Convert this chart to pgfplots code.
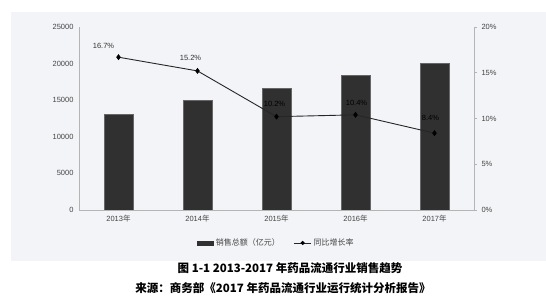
\documentclass[border=0pt]{standalone}
\usepackage{pgfplots}
\pgfplotsset{compat=1.18}
\usepackage{fontspec}
\setmainfont{Liberation Sans}
\newfontfamily\cjk{Noto Sans CJK SC}
\definecolor{bgcol}{HTML}{F3F4F7}
\definecolor{barcol}{HTML}{303030}
\definecolor{axcol}{HTML}{B4B4B4}
\definecolor{txtcol}{HTML}{454545}
\begin{document}
\begin{tikzpicture}[x=1pt,y=1pt]
\useasboundingbox (0,0) rectangle (546,297);
\fill[bgcol] (11,36) rectangle (546,285);
\begin{axis}[
  at={(79pt,87pt)}, anchor=south west, scale only axis,
  width=395pt, height=183pt,
  xmin=-0.5, xmax=4.5, ymin=0, ymax=25000,
  scaled y ticks=false,
  axis x line*=bottom, axis y line*=left,
  axis line style={axcol, line width=0.6pt},
  xtick={0,1,2,3,4},
  xticklabels={2013{\cjk 年},2014{\cjk 年},2015{\cjk 年},2016{\cjk 年},2017{\cjk 年}},
  ytick={0,5000,10000,15000,20000,25000},
  yticklabels={0,5000,10000,15000,20000,25000},
  major tick length=0pt,
  tick label style={font=\fontsize{7.5}{9}\selectfont, text=txtcol},
  yticklabel style={xshift=-2pt},
  xticklabel style={yshift=-2pt},
  legend style={at={(0.5,-0.18)}, anchor=center, draw=none, fill=none,
    legend columns=2, font=\fontsize{8}{9}\selectfont\cjk, text=txtcol,
    /tikz/every even column/.append style={column sep=12pt}},
]
\addplot[ybar, bar width=29pt, fill=barcol, draw=black!60, line width=0.3pt,
  legend image code/.code={\fill[barcol] (0pt,-2.2pt) rectangle (16pt,2.2pt);}]
  coordinates {(0,13036) (1,15021) (2,16613) (3,18393) (4,20016)};
\addlegendentry{销售总额（亿元）}
\addlegendimage{black!85, line width=0.8pt, mark=diamond*, mark size=2pt,
  legend image code/.code={\draw[black!85, line width=0.8pt] (0pt,0pt) -- (17pt,0pt);
    \fill[black] (8.5pt,0pt) circle (1.6pt);}}
\addlegendentry{同比增长率}
\end{axis}
\begin{axis}[
  at={(79pt,87pt)}, anchor=south west, scale only axis,
  width=395pt, height=183pt,
  xmin=-0.5, xmax=4.5, ymin=0, ymax=20,
  axis x line=none, axis y line*=right,
  axis line style={axcol, line width=0.6pt},
  ytick={0,5,10,15,20},
  yticklabels={0\%,5\%,10\%,15\%,20\%},
  tick align=outside, major tick length=3pt,
  tick style={axcol, line width=0.5pt},
  tick label style={font=\fontsize{7.5}{9}\selectfont, text=txtcol},
  yticklabel style={xshift=1pt},
]
\addplot[black!85, line width=0.9pt, mark=diamond*, mark size=2.3pt,
  mark options={fill=black, draw=black}]
  coordinates {(0,16.7) (1,15.2) (2,10.2) (3,10.4) (4,8.4)};
\node[font=\fontsize{7.5}{9}\selectfont, text=black!80] at (axis cs:0,16.7) [xshift=-15pt, yshift=11pt] {16.7\%};
\node[font=\fontsize{7.5}{9}\selectfont, text=black!80] at (axis cs:1,15.2) [xshift=-7pt, yshift=13pt] {15.2\%};
\node[font=\fontsize{7.5}{9}\selectfont, text=black] at (axis cs:2,10.2) [xshift=-2pt, yshift=13pt] {10.2\%};
\node[font=\fontsize{7.5}{9}\selectfont, text=black] at (axis cs:3,10.4) [xshift=1pt, yshift=12pt] {10.4\%};
\node[font=\fontsize{7.5}{9}\selectfont, text=black] at (axis cs:4,8.4) [xshift=-4pt, yshift=15pt] {8.4\%};
\end{axis}
\node[font=\fontsize{11.5}{13}\selectfont\cjk\bfseries] at (290,29) {图 1-1 2013-2017 年药品流通行业销售趋势};
\node[font=\fontsize{11.5}{13}\selectfont\cjk\bfseries] at (283,9) {来源：商务部《2017 年药品流通行业运行统计分析报告》};
\end{tikzpicture}
\end{document}
